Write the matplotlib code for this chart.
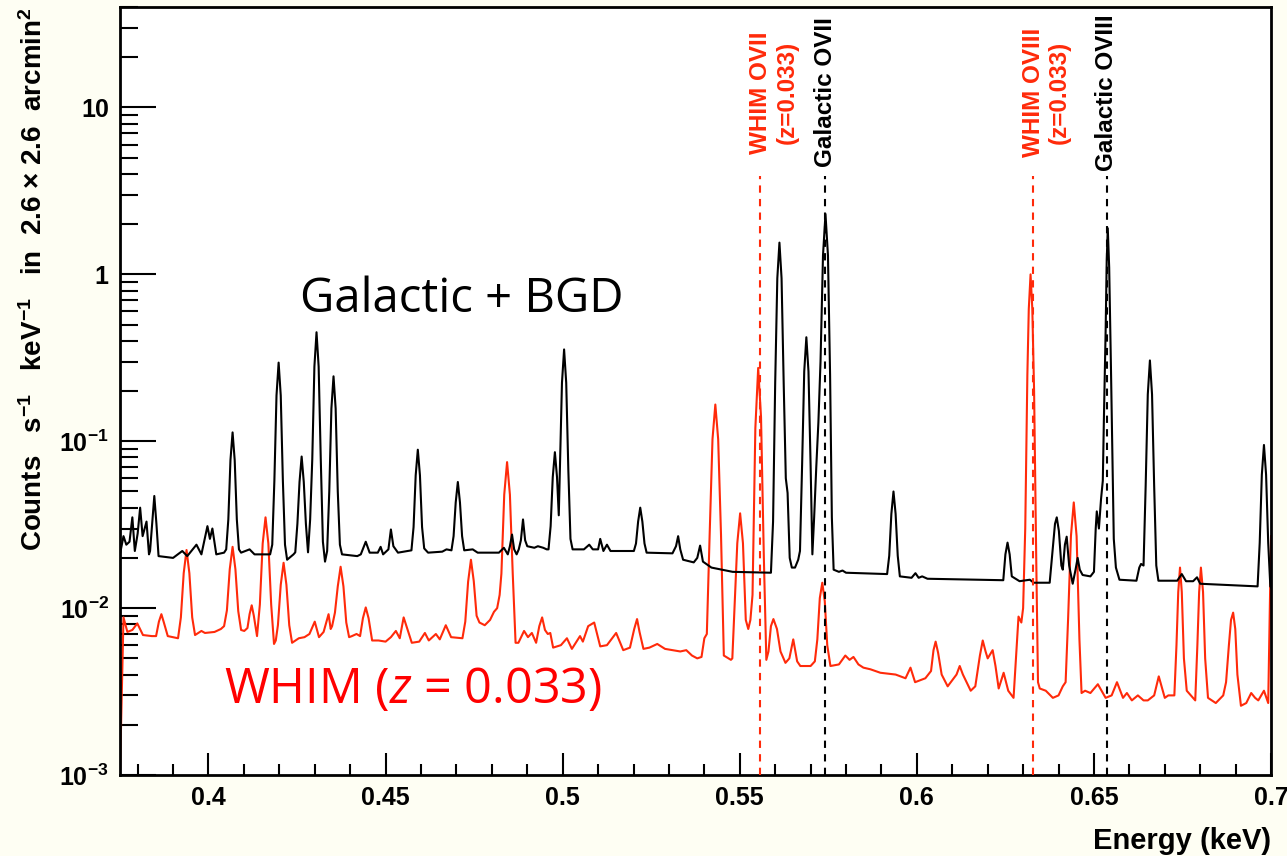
import numpy as np
import matplotlib
matplotlib.use('Agg')
import matplotlib.pyplot as plt
from matplotlib.ticker import FixedLocator, FixedFormatter, LogLocator, MultipleLocator, NullFormatter

# Galactic + BGD spectrum (energy in keV, counts s^-1 keV^-1)
gal_energy = [0.3750, 0.3760, 0.3768, 0.3777, 0.3785, 0.3792, 0.3800, 0.3807, 0.3814, 0.3818,
              0.3825, 0.3832, 0.3835, 0.3841, 0.3847, 0.3853, 0.3859, 0.3900, 0.3926, 0.3940,
              0.3966, 0.3980, 0.3997, 0.4004, 0.4011, 0.4022, 0.4044, 0.4050, 0.4056, 0.4062,
              0.4068, 0.4074, 0.4080, 0.4086, 0.4092, 0.4116, 0.4130, 0.4174, 0.4180, 0.4186,
              0.4192, 0.4198, 0.4204, 0.4210, 0.4216, 0.4222, 0.4240, 0.4245, 0.4251, 0.4257,
              0.4263, 0.4269, 0.4275, 0.4281, 0.4287, 0.4293, 0.4299, 0.4305, 0.4311, 0.4317,
              0.4323, 0.4329, 0.4335, 0.4341, 0.4347, 0.4353, 0.4359, 0.4365, 0.4371, 0.4377,
              0.4420, 0.4430, 0.4444, 0.4455, 0.4478, 0.4486, 0.4493, 0.4508, 0.4515, 0.4522,
              0.4535, 0.4573, 0.4579, 0.4585, 0.4591, 0.4597, 0.4603, 0.4609, 0.4620, 0.4660,
              0.4672, 0.4686, 0.4692, 0.4698, 0.4704, 0.4710, 0.4716, 0.4722, 0.4746, 0.4760,
              0.4820, 0.4834, 0.4845, 0.4851, 0.4857, 0.4863, 0.4870, 0.4876, 0.4882, 0.4888,
              0.4894, 0.4900, 0.4920, 0.4930, 0.4945, 0.4955, 0.4960, 0.4966, 0.4972, 0.4978,
              0.4984, 0.4989, 0.4992, 0.4998, 0.5004, 0.5010, 0.5016, 0.5022, 0.5028, 0.5060,
              0.5075, 0.5085, 0.5100, 0.5106, 0.5115, 0.5125, 0.5135, 0.5201, 0.5207, 0.5213,
              0.5219, 0.5225, 0.5231, 0.5237, 0.5310, 0.5320, 0.5326, 0.5332, 0.5340, 0.5370,
              0.5380, 0.5388, 0.5396, 0.5420, 0.5480, 0.5588, 0.5594, 0.5600, 0.5606, 0.5612,
              0.5618, 0.5624, 0.5630, 0.5635, 0.5641, 0.5647, 0.5656, 0.5665, 0.5670, 0.5676,
              0.5682, 0.5688, 0.5694, 0.5700, 0.5705, 0.5710, 0.5716, 0.5722, 0.5728, 0.5735,
              0.5742, 0.5749, 0.5755, 0.5760, 0.5765, 0.5780, 0.5790, 0.5800, 0.5916, 0.5922,
              0.5928, 0.5934, 0.5940, 0.5946, 0.5952, 0.5985, 0.5996, 0.6005, 0.6015, 0.6030,
              0.6244, 0.6250, 0.6256, 0.6262, 0.6268, 0.6290, 0.6319, 0.6330, 0.6375, 0.6383,
              0.6390, 0.6395, 0.6401, 0.6408, 0.6412, 0.6418, 0.6423, 0.6430, 0.6440, 0.6448,
              0.6454, 0.6460, 0.6468, 0.6490, 0.6500, 0.6505, 0.6508, 0.6514, 0.6520, 0.6525,
              0.6528, 0.6533, 0.6536, 0.6539, 0.6543, 0.6548, 0.6556, 0.6562, 0.6572, 0.6620,
              0.6628, 0.6633, 0.6640, 0.6646, 0.6652, 0.6658, 0.6664, 0.6670, 0.6676, 0.6682,
              0.6735, 0.6748, 0.6760, 0.6780, 0.6791, 0.6800, 0.6962, 0.6968, 0.6974, 0.6980,
              0.6986, 0.6992, 0.6998, 0.7003]
gal_counts = [0.021, 0.027, 0.024, 0.025, 0.035, 0.022, 0.028, 0.040, 0.027, 0.029,
              0.033, 0.021, 0.022, 0.032, 0.047, 0.032, 0.0205, 0.020, 0.022, 0.0205,
              0.024, 0.021, 0.031, 0.026, 0.030, 0.021, 0.0215, 0.0225, 0.034, 0.077,
              0.113, 0.077, 0.034, 0.0225, 0.0215, 0.0225, 0.021, 0.021, 0.024, 0.058,
              0.188, 0.296, 0.188, 0.058, 0.024, 0.0195, 0.021, 0.0216, 0.032, 0.057,
              0.081, 0.057, 0.032, 0.0216, 0.034, 0.078, 0.28, 0.45, 0.28, 0.078,
              0.025, 0.019, 0.022, 0.05, 0.157, 0.245, 0.157, 0.05, 0.024, 0.021,
              0.0205, 0.021, 0.025, 0.0215, 0.0215, 0.0233, 0.021, 0.0225, 0.0296, 0.0235,
              0.0215, 0.0222, 0.0306, 0.0625, 0.089, 0.0625, 0.0306, 0.0228, 0.0215, 0.0218,
              0.0225, 0.0222, 0.027, 0.043, 0.057, 0.043, 0.027, 0.0222, 0.0225, 0.0215,
              0.0215, 0.023, 0.021, 0.0235, 0.0276, 0.0225, 0.021, 0.0225, 0.0255, 0.034,
              0.0255, 0.0235, 0.023, 0.0235, 0.023, 0.0225, 0.0225, 0.031, 0.061, 0.086,
              0.061, 0.036, 0.067, 0.224, 0.355, 0.224, 0.067, 0.026, 0.0225, 0.0225,
              0.024, 0.0225, 0.0225, 0.026, 0.022, 0.024, 0.022, 0.022, 0.0244, 0.033,
              0.040, 0.033, 0.0244, 0.0215, 0.0213, 0.0235, 0.027, 0.0225, 0.0195, 0.0188,
              0.020, 0.0237, 0.019, 0.0175, 0.0165, 0.0163, 0.033, 0.223, 0.947, 1.55,
              0.947, 0.223, 0.06, 0.049, 0.020, 0.0175, 0.0175, 0.0195, 0.022, 0.072,
              0.262, 0.42, 0.262, 0.072, 0.021, 0.035, 0.070, 0.13, 0.30, 1.3,
              2.3, 1.3, 0.25, 0.035, 0.017, 0.0165, 0.0168, 0.0163, 0.016, 0.0206,
              0.0367, 0.050, 0.0367, 0.0206, 0.0155, 0.0152, 0.0162, 0.0152, 0.0155, 0.015,
              0.0147, 0.021, 0.0247, 0.021, 0.0155, 0.0145, 0.0148, 0.0142, 0.0142, 0.022,
              0.032, 0.035, 0.029, 0.018, 0.017, 0.024, 0.0268, 0.018, 0.014, 0.017,
              0.020, 0.017, 0.0158, 0.0155, 0.0165, 0.030, 0.038, 0.030, 0.045, 0.058,
              0.133, 0.46, 1.2, 1.89, 1.1, 0.277, 0.026, 0.0175, 0.0148, 0.0146,
              0.0175, 0.0184, 0.018, 0.054, 0.191, 0.305, 0.191, 0.054, 0.018, 0.0146,
              0.0146, 0.016, 0.0145, 0.0145, 0.0153, 0.014, 0.0135, 0.0246, 0.063, 0.095,
              0.063, 0.0246, 0.0135, 0.013]

# WHIM spectrum at z = 0.033
whim_energy = [0.3750, 0.3760, 0.3771, 0.3785, 0.3799, 0.3815, 0.3840, 0.3852, 0.3860, 0.3867,
               0.3874, 0.3885, 0.3914, 0.3922, 0.3930, 0.3938, 0.3946, 0.3954, 0.3962, 0.3980,
               0.3990, 0.4017, 0.4035, 0.4044, 0.4052, 0.4060, 0.4068, 0.4076, 0.4084, 0.4092,
               0.4101, 0.4110, 0.4116, 0.4122, 0.4128, 0.4137, 0.4145, 0.4153, 0.4161, 0.4169,
               0.4177, 0.4185, 0.4190, 0.4196, 0.4204, 0.4212, 0.4220, 0.4228, 0.4236, 0.4255,
               0.4271, 0.4285, 0.4300, 0.4312, 0.4325, 0.4339, 0.4345, 0.4349, 0.4357, 0.4365,
               0.4373, 0.4381, 0.4389, 0.4397, 0.4405, 0.4418, 0.4428, 0.4436, 0.4444, 0.4452,
               0.4462, 0.4480, 0.4500, 0.4515, 0.4529, 0.4540, 0.4551, 0.4574, 0.4595, 0.4611,
               0.4622, 0.4642, 0.4653, 0.4670, 0.4685, 0.4717, 0.4725, 0.4733, 0.4741, 0.4749,
               0.4757, 0.4765, 0.4780, 0.4795, 0.4806, 0.4815, 0.4822, 0.4827, 0.4835, 0.4843,
               0.4851, 0.4859, 0.4867, 0.4875, 0.4891, 0.4902, 0.4913, 0.4925, 0.4934, 0.4942,
               0.4950, 0.4958, 0.4965, 0.4973, 0.4995, 0.5012, 0.5026, 0.5049, 0.5057, 0.5072,
               0.5089, 0.5106, 0.5125, 0.5151, 0.5171, 0.5190, 0.5202, 0.5210, 0.5217, 0.5228,
               0.5245, 0.5267, 0.5289, 0.5310, 0.5332, 0.5349, 0.5365, 0.5380, 0.5392, 0.5400,
               0.5407, 0.5415, 0.5423, 0.5431, 0.5439, 0.5447, 0.5455, 0.5475, 0.5479, 0.5485,
               0.5493, 0.5501, 0.5509, 0.5517, 0.5524, 0.5530, 0.5536, 0.5544, 0.5552, 0.5560,
               0.5568, 0.5575, 0.5581, 0.5588, 0.5595, 0.5605, 0.5615, 0.5629, 0.5640, 0.5651,
               0.5662, 0.5671, 0.5700, 0.5712, 0.5719, 0.5726, 0.5733, 0.5740, 0.5747, 0.5756,
               0.5780, 0.5798, 0.5810, 0.5821, 0.5835, 0.5849, 0.5869, 0.5897, 0.5940, 0.5968,
               0.5982, 0.5995, 0.6010, 0.6024, 0.6040, 0.6047, 0.6053, 0.6060, 0.6070, 0.6087,
               0.6112, 0.6121, 0.6130, 0.6152, 0.6165, 0.6178, 0.6186, 0.6194, 0.6200, 0.6214,
               0.6222, 0.6231, 0.6245, 0.6258, 0.6273, 0.6287, 0.6295, 0.6300, 0.6306, 0.6312,
               0.6316, 0.6321, 0.6326, 0.6331, 0.6337, 0.6342, 0.6347, 0.6364, 0.6384, 0.6400,
               0.6412, 0.6420, 0.6427, 0.6435, 0.6443, 0.6451, 0.6459, 0.6465, 0.6475, 0.6490,
               0.6511, 0.6533, 0.6550, 0.6565, 0.6582, 0.6593, 0.6607, 0.6624, 0.6640, 0.6652,
               0.6670, 0.6683, 0.6700, 0.6710, 0.6727, 0.6733, 0.6738, 0.6743, 0.6748, 0.6754,
               0.6762, 0.6786, 0.6792, 0.6797, 0.6802, 0.6808, 0.6814, 0.6822, 0.6844, 0.6865,
               0.6873, 0.6881, 0.6887, 0.6893, 0.6899, 0.6905, 0.6915, 0.6930, 0.6944, 0.6955,
               0.6964, 0.6980, 0.6992, 0.7000]
whim_counts = [0.001, 0.0088, 0.0072, 0.0074, 0.0081, 0.0069, 0.0068, 0.0068, 0.0083, 0.0092,
               0.0082, 0.0068, 0.0066, 0.0088, 0.0162, 0.0223, 0.0162, 0.0088, 0.0069, 0.0073,
               0.0071, 0.0072, 0.0075, 0.0078, 0.0097, 0.0171, 0.0233, 0.0171, 0.0096, 0.0074,
               0.0073, 0.0076, 0.0092, 0.0104, 0.0090, 0.0068, 0.0105, 0.0244, 0.035, 0.0244,
               0.0105, 0.0061, 0.0064, 0.0079, 0.0138, 0.0187, 0.0138, 0.0079, 0.0062, 0.0066,
               0.0067, 0.0070, 0.0083, 0.0067, 0.0072, 0.0092, 0.0075, 0.0078, 0.0094, 0.0135,
               0.0177, 0.0135, 0.0082, 0.0067, 0.0068, 0.0070, 0.0068, 0.0087, 0.0101, 0.0087,
               0.0064, 0.0064, 0.0063, 0.0067, 0.0073, 0.0066, 0.0088, 0.0062, 0.0063, 0.0071,
               0.0064, 0.0070, 0.0065, 0.0079, 0.0067, 0.0066, 0.0083, 0.0144, 0.0195, 0.0145,
               0.0090, 0.0082, 0.0079, 0.0085, 0.0095, 0.0100, 0.0120, 0.0161, 0.0479, 0.075,
               0.0479, 0.0161, 0.0062, 0.0062, 0.0073, 0.0067, 0.0071, 0.0062, 0.0078, 0.0088,
               0.0074, 0.0070, 0.0071, 0.0058, 0.0060, 0.0066, 0.0057, 0.0068, 0.0063, 0.0078,
               0.0082, 0.0059, 0.0060, 0.0071, 0.0056, 0.0058, 0.0075, 0.0086, 0.0072, 0.0057,
               0.0058, 0.0061, 0.0057, 0.0056, 0.0055, 0.0056, 0.0052, 0.0050, 0.0051, 0.0066,
               0.0070, 0.0277, 0.103, 0.166, 0.103, 0.0277, 0.0052, 0.0049, 0.0050, 0.010,
               0.0245, 0.037, 0.0245, 0.0085, 0.0075, 0.0085, 0.012, 0.12, 0.275, 0.14,
               0.020, 0.0049, 0.0055, 0.0078, 0.0086, 0.0075, 0.0055, 0.0047, 0.0050, 0.0065,
               0.0048, 0.0045, 0.0045, 0.0048, 0.0065, 0.0115, 0.0142, 0.0110, 0.0060, 0.0045,
               0.0046, 0.0052, 0.0049, 0.0051, 0.0046, 0.0044, 0.0043, 0.0041, 0.0040, 0.0038,
               0.0044, 0.0036, 0.0037, 0.0038, 0.0042, 0.0056, 0.0063, 0.0054, 0.0040, 0.0034,
               0.0040, 0.0045, 0.0040, 0.0032, 0.0034, 0.0052, 0.0064, 0.0055, 0.0050, 0.0056,
               0.0045, 0.0033, 0.0041, 0.0032, 0.0029, 0.0089, 0.0082, 0.0100, 0.030, 0.25,
               0.62, 1.0, 0.62, 0.20, 0.020, 0.0036, 0.0033, 0.0032, 0.0029, 0.0030,
               0.0034, 0.0036, 0.0086, 0.027, 0.043, 0.027, 0.0065, 0.0031, 0.0032, 0.0031,
               0.0035, 0.0029, 0.0030, 0.0036, 0.0029, 0.0031, 0.0028, 0.0030, 0.0028, 0.0028,
               0.0030, 0.0039, 0.0029, 0.0030, 0.0030, 0.0060, 0.0125, 0.0175, 0.0125, 0.0050,
               0.0032, 0.0028, 0.0060, 0.0125, 0.0175, 0.0125, 0.0050, 0.0029, 0.0027, 0.0030,
               0.0036, 0.0060, 0.0085, 0.0094, 0.0075, 0.0040, 0.0026, 0.0027, 0.0031, 0.0029,
               0.0028, 0.0032, 0.0027, 0.027]

# oxygen line markers (keV)
gal_lines = [0.5742, 0.6536]
gal_line_names = ['Galactic OVII', 'Galactic OVIII']
whim_lines = [0.5557, 0.6327]
whim_line_names = ['WHIM OVII', 'WHIM OVIII']
redshift = 0.033

y_ticks = [1e-3, 1e-2, 1e-1, 1, 10]
y_tick_labels = [r'$\mathbf{10^{-3}}$', r'$\mathbf{10^{-2}}$', r'$\mathbf{10^{-1}}$', '1', '10']
x_ticks = [0.4, 0.45, 0.5, 0.55, 0.6, 0.65, 0.7]
x_tick_labels = ['0.4', '0.45', '0.5', '0.55', '0.6', '0.65', '0.7']

RED = '#ff2a0a'
plt.rcParams['font.family'] = ['Liberation Sans', 'DejaVu Sans']
plt.rcParams['mathtext.fontset'] = 'custom'
plt.rcParams['mathtext.rm'] = 'Liberation Sans:bold'
plt.rcParams['mathtext.bf'] = 'Liberation Sans:bold'
plt.rcParams['mathtext.it'] = 'Open Sans:italic'

fig = plt.figure(figsize=(12.87, 8.56), dpi=100, facecolor='#fefef3')
ax = fig.add_axes([0.0932, 0.0946, 0.8944, 0.8972])
ax.set_facecolor('white')

ax.plot(gal_energy, gal_counts, color='black', lw=1.5, zorder=3)
ax.plot(whim_energy, whim_counts, color=RED, lw=1.5, zorder=2)

ax.set_yscale('log')
ax.set_xlim(0.375, 0.7)
ax.set_ylim(1e-3, 40)

# dashed markers with rotated names
top = 3.9
for e in whim_lines:
    ax.plot([e, e], [1e-3, top], color=RED, lw=1.5, ls=(0, (3.5, 3)), zorder=4)
for e in gal_lines:
    ax.plot([e, e], [1e-3, top], color='black', lw=1.5, ls=(0, (3.5, 3)), zorder=4)

trans = ax.get_xaxis_transform()
for e, name in zip(gal_lines, gal_line_names):
    ax.text(e, 0.889, name, rotation=90, ha='center', va='center', transform=trans,
            fontsize=17.5, fontweight='bold', color='black')
for e, name in zip(whim_lines, whim_line_names):
    ax.text(e + 0.0001, 0.889, name, rotation=90, ha='center', va='center', transform=trans,
            fontsize=17.5, fontweight='bold', color=RED)
    ax.text(e + 0.0076, 0.889, '(z=%.3f)' % redshift, rotation=90, ha='center', va='center',
            transform=trans, fontsize=17.5, fontweight='bold', color=RED)

ax.text(0.4716, 0.71, 'Galactic + BGD', ha='center', va='center', fontsize=34,
        family='Open Sans', color='black')
ax.text(0.4578, 0.0032, r'WHIM ($\mathit{z}$ = 0.033)', ha='center', va='center',
        fontsize=35, family='Open Sans', color='#ff0000')

# axes styling
ax.yaxis.set_major_locator(FixedLocator(y_ticks))
ax.yaxis.set_major_formatter(FixedFormatter(y_tick_labels))
ax.yaxis.set_minor_locator(LogLocator(base=10, subs=np.arange(2, 10)))
ax.yaxis.set_minor_formatter(NullFormatter())
ax.xaxis.set_major_locator(FixedLocator(x_ticks))
ax.xaxis.set_major_formatter(FixedFormatter(x_tick_labels))
ax.xaxis.set_minor_locator(MultipleLocator(0.01))

ax.tick_params(axis='both', which='both', direction='in', top=False, right=False, width=1.5)
ax.tick_params(axis='x', which='major', length=16, pad=8, labelsize=18)
ax.tick_params(axis='x', which='minor', length=8)
ax.tick_params(axis='y', which='major', length=26, pad=8, labelsize=18)
ax.tick_params(axis='y', which='minor', length=13)
for lab in ax.get_xticklabels() + ax.get_yticklabels():
    lab.set_fontweight('bold')
for sp in ax.spines.values():
    sp.set_linewidth(2)

ax.set_xlabel('Energy (keV)', fontsize=21, fontweight='bold', loc='right', labelpad=12)
ax.set_ylabel(r'Counts   s$^{-1}$   keV$^{-1}$   in  2.6 $\times$ 2.6  arcmin$^{2}$',
              fontsize=20, fontweight='bold', loc='top', labelpad=8)

fig.savefig('out.png', dpi=100, facecolor=fig.get_facecolor())
